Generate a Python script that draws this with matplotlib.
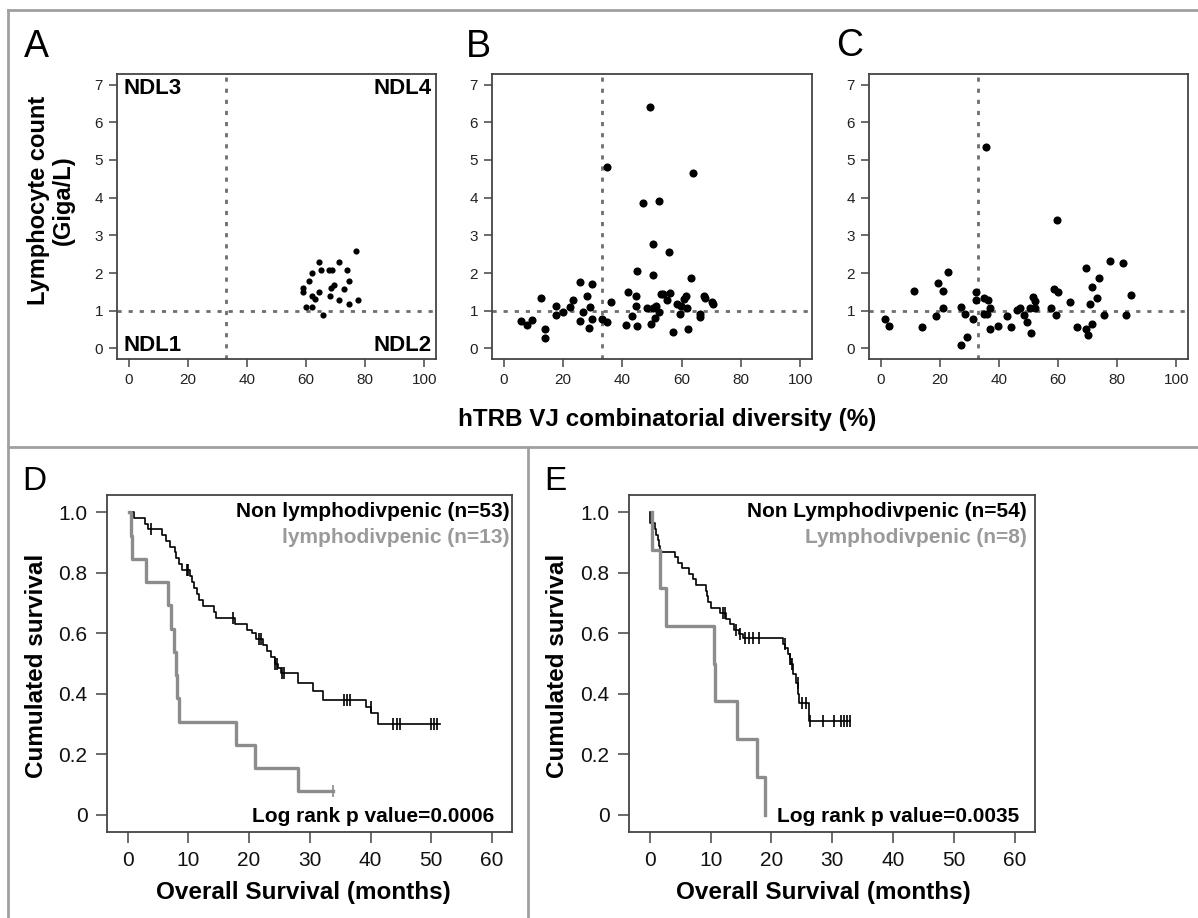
import numpy as np
import matplotlib
matplotlib.use("Agg")
import matplotlib.pyplot as plt
from matplotlib.lines import Line2D

plt.rcParams['font.family'] = ['Liberation Sans', 'DejaVu Sans']

W, H = 1198, 918

# Panels A-C: hTRB VJ combinatorial diversity (%) vs lymphocyte count (Giga/L)
a_div = [59.0, 59.0, 59.9, 61.0, 62.1, 62.1, 62.1, 62.9, 64.4, 64.4, 65.2, 65.8, 67.8,
         68.9, 68.1, 68.4, 69.3, 71.2, 71.2, 72.7, 73.8, 74.6, 74.6, 76.8, 77.6]
a_lym = [1.6, 1.5, 1.09, 1.8, 2.0, 1.4, 1.09, 1.3, 2.28, 1.49, 2.09, 0.89, 2.08,
         2.08, 1.4, 1.6, 1.69, 2.28, 1.29, 1.58, 2.08, 1.8, 1.19, 2.58, 1.29]

b_div = [5.9, 7.8, 9.6, 12.7, 13.8, 14.0, 17.7, 17.7, 19.8, 22.3, 23.4, 25.6, 25.6, 26.8,
         28.1, 29.0, 28.7, 29.6, 29.6, 33.0, 34.7, 34.9, 36.0, 41.1, 41.8, 43.4, 44.5, 44.5,
         45.1, 45.1, 46.8, 48.2, 49.3, 49.7, 50.2, 50.2, 50.2, 51.1, 51.4, 52.4, 52.5, 53.0,
         53.7, 55.0, 55.9, 56.2, 57.1, 58.6, 59.6, 59.9, 60.9, 61.5, 61.8, 62.1, 63.2, 63.8,
         66.1, 66.1, 67.7, 68.0, 70.3, 70.5]
b_lym = [0.73, 0.62, 0.75, 1.35, 0.51, 0.27, 1.13, 0.89, 0.96, 1.09, 1.28, 1.75, 0.73, 0.96,
         1.40, 1.11, 0.54, 1.71, 0.78, 0.78, 4.82, 0.71, 1.22, 0.63, 1.50, 0.85, 1.38, 1.13,
         2.06, 0.60, 3.85, 1.06, 6.40, 0.65, 2.77, 1.95, 1.08, 0.82, 1.13, 3.90, 0.96, 1.44,
         1.44, 1.28, 2.55, 1.46, 0.44, 1.19, 0.91, 1.13, 1.31, 1.40, 1.06, 0.51, 1.86, 4.65,
         0.91, 0.84, 1.40, 1.34, 1.22, 1.18]

c_div = [1.4, 2.7, 11.2, 14.0, 18.6, 19.2, 21.0, 21.0, 22.8, 27.2, 27.2, 28.4, 29.3, 31.2,
         32.1, 32.1, 35.0, 35.5, 36.4, 36.9, 35.0, 35.9, 36.9, 39.8, 42.6, 44.0, 46.1, 47.1,
         48.5, 49.5, 50.4, 51.0, 51.5, 52.2, 52.2, 57.6, 58.6, 59.2, 59.8, 60.0, 64.0, 66.3,
         69.6, 69.6, 70.3, 70.9, 71.4, 71.4, 73.2, 73.8, 75.5, 77.7, 82.1, 83.1, 84.6]
c_lym = [0.78, 0.60, 1.53, 0.58, 0.85, 1.73, 1.53, 1.08, 2.02, 1.10, 0.10, 0.91, 0.31, 0.77,
         1.49, 1.28, 1.35, 5.34, 1.28, 1.08, 0.91, 0.91, 0.51, 0.59, 0.85, 0.56, 1.02, 1.08,
         0.89, 0.71, 1.08, 0.40, 1.37, 1.26, 1.08, 1.06, 1.58, 0.89, 3.41, 1.50, 1.24, 0.56,
         2.13, 0.51, 0.36, 1.18, 1.62, 0.66, 1.33, 1.86, 0.89, 2.33, 2.27, 0.89, 1.42]

div_cut = 33
lym_cut = 1

# Panel D: Kaplan-Meier steps (months, survival)
d_non_t = [1.1, 2.8, 3.4, 5.6, 6.3, 7.0, 7.8, 8.0, 8.5, 9.0, 10.2, 10.6, 11.0, 11.4, 11.8,
           12.4, 14.3, 14.5, 17.6, 19.6, 20.4, 21.2, 22.3, 23.0, 23.6, 24.2, 24.8, 25.2,
           28.1, 30.6, 32.2, 39.2, 40.1, 41.2]
d_non_s = [0.981, 0.962, 0.943, 0.924, 0.905, 0.886, 0.867, 0.848, 0.829, 0.810, 0.790,
           0.770, 0.750, 0.730, 0.710, 0.690, 0.670, 0.650, 0.630, 0.611, 0.600, 0.580,
           0.560, 0.540, 0.520, 0.500, 0.485, 0.468, 0.437, 0.410, 0.380, 0.357, 0.335, 0.300]
d_non_cens = [3.9, 9.7, 10.0, 17.3, 21.7, 22.0, 24.3, 24.6, 25.4, 25.7, 35.7, 36.2, 36.7,
              40.0, 43.7, 44.3, 44.8, 49.9, 50.4, 50.9]
d_non_end = 51.5

d_lym_t = [0.5, 0.7, 3.1, 6.7, 7.2, 7.6, 7.9, 8.2, 8.5, 17.8, 21.0, 28.1]
d_lym_s = [0.923, 0.846, 0.769, 0.692, 0.615, 0.538, 0.462, 0.385, 0.308, 0.231, 0.154, 0.077]
d_lym_cens = [33.9]
d_lym_end = 33.9

# Panel E
e_non_t = [0.1, 0.9, 1.0, 1.3, 1.5, 1.7, 4.2, 4.7, 5.3, 6.5, 7.1, 7.6, 9.2, 9.4, 9.6, 10.0,
           11.5, 12.6, 13.2, 13.8, 14.6, 15.3, 21.9, 22.3, 22.7, 23.0, 23.2, 23.5, 24.1,
           24.4, 24.6, 26.2]
e_non_s = [0.963, 0.944, 0.926, 0.907, 0.889, 0.870, 0.852, 0.833, 0.815, 0.796, 0.778,
           0.759, 0.741, 0.722, 0.704, 0.685, 0.667, 0.648, 0.630, 0.611, 0.596, 0.583,
           0.566, 0.550, 0.533, 0.516, 0.498, 0.465, 0.435, 0.400, 0.368, 0.310]
e_non_cens = [12.1, 12.4, 14.2, 14.9, 15.6, 16.3, 17.0, 18.0, 22.2, 23.1, 23.3, 24.3, 25.0,
              25.6, 26.3, 28.4, 30.2, 31.4, 31.9, 32.4, 32.9]
e_non_end = 32.9

e_lym_t = [0.4, 1.7, 2.6, 10.5, 10.8, 14.3, 17.7, 18.9]
e_lym_s = [0.875, 0.75, 0.625, 0.5, 0.375, 0.25, 0.125, 0.0]
e_lym_cens = []
e_lym_end = 18.9

GREY_LINE = '#8c8c8c'
GREY_TEXT = '#9a9a9a'


def px_axes(fig, x0, y0, x1, y1):
    return fig.add_axes([x0 / W, 1 - y1 / H, (x1 - x0) / W, (y1 - y0) / H])


def fx(x):
    return x / W


def fy(y):
    return 1 - y / H


def style_axes(ax, labelsize, length):
    for sp in ax.spines.values():
        sp.set_color('#444444')
        sp.set_linewidth(1.3)
    ax.tick_params(direction='out', length=length, width=1.1, color='#444444',
                   labelsize=labelsize, labelcolor='#222222', pad=4)


def scatter_panel(ax, x, y, size):
    ax.axvline(div_cut, color='#6e6e6e', lw=2, ls=(0, (1.5, 2.5)), zorder=1)
    ax.axhline(lym_cut, color='#6e6e6e', lw=2, ls=(0, (1.5, 2.5)), zorder=1)
    ax.scatter(x, y, s=size, color='black', lw=0, zorder=3)
    ax.set_xlim(-4, 104)
    ax.set_ylim(-0.28, 7.28)
    ax.set_xticks(range(0, 101, 20))
    ax.set_yticks(range(0, 8))
    style_axes(ax, 11, 6)


def level_at(tc, t, s):
    i = np.searchsorted(t, tc, side='right') - 1
    return 1.0 if i < 0 else s[i]


def km_curve(ax, t, s, cens, end, color, lw, start=0.3):
    xs = [start] + list(t) + [end]
    ys = [1.0] + list(s) + [s[-1]]
    ax.step(xs, ys, where='post', color=color, lw=lw, zorder=3)
    if cens:
        cy = [level_at(c, t, s) for c in cens]
        ax.plot(cens, cy, ls='none', marker='|', ms=8, mew=1.2, color=color, zorder=4)


def survival_panel(ax, ylab_x, xlab_x):
    ax.set_xlim(-3.4, 63.3)
    ax.set_ylim(-0.057, 1.057)
    ax.set_xticks(range(0, 61, 10))
    ax.set_yticks([0, 0.2, 0.4, 0.6, 0.8, 1.0])
    ax.set_yticklabels(['0', '0.2', '0.4', '0.6', '0.8', '1.0'])
    style_axes(ax, 15, 8)
    ax.tick_params(labelcolor='#111111', pad=6)
    fig.text(fx(ylab_x), fy(666), 'Cumulated survival', rotation=90, ha='center',
             va='center', fontsize=17.5, fontweight='bold')
    fig.text(fx(xlab_x), fy(893), 'Overall Survival (months)', ha='center',
             va='center', fontsize=17.5, fontweight='bold')


fig = plt.figure(figsize=(W / 100, H / 100), dpi=100)

# frame lines
frame = dict(color='#a0a0a0', lw=2, transform=fig.transFigure)
fig.add_artist(Line2D([fx(8), 1], [fy(10), fy(10)], **frame))
fig.add_artist(Line2D([fx(8), fx(8)], [0, fy(10)], **frame))
fig.add_artist(Line2D([fx(8), 1], [fy(447), fy(447)], **frame))
fig.add_artist(Line2D([fx(528), fx(528)], [0, fy(447)], **frame))

axA = px_axes(fig, 117, 74, 436, 359)
axB = px_axes(fig, 492, 74, 812, 359)
axC = px_axes(fig, 869, 74, 1188, 359)

scatter_panel(axA, a_div, a_lym, 20)
scatter_panel(axB, b_div, b_lym, 34)
scatter_panel(axC, c_div, c_lym, 34)

fig.text(fx(51), fy(200), 'Lymphocyte count\n(Giga/L)', rotation=90, ha='center',
         va='center', multialignment='center', fontsize=17, fontweight='bold',
         linespacing=1.15)
quad = dict(fontsize=16, fontweight='bold', transform=axA.transAxes)
axA.text(0.02, 0.985, 'NDL3', ha='left', va='top', **quad)
axA.text(0.985, 0.985, 'NDL4', ha='right', va='top', **quad)
axA.text(0.02, 0.01, 'NDL1', ha='left', va='bottom', **quad)
axA.text(0.985, 0.01, 'NDL2', ha='right', va='bottom', **quad)

fig.text(fx(667), fy(420), 'hTRB VJ combinatorial diversity (%)', ha='center',
         va='center', fontsize=17.5, fontweight='bold')

for lbl, x, y in [('A', 24, 47), ('B', 466, 47), ('C', 836, 46)]:
    fig.text(fx(x), fy(y), lbl, fontsize=27, ha='left', va='center')

axD = px_axes(fig, 107, 495, 512, 832)
axE = px_axes(fig, 629, 495, 1035, 832)

km_curve(axD, d_non_t, d_non_s, d_non_cens, d_non_end, 'black', 1.2)
km_curve(axD, d_lym_t, d_lym_s, d_lym_cens, d_lym_end, GREY_LINE, 2.4)
survival_panel(axD, 37, 303)
km_curve(axE, e_non_t, e_non_s, e_non_cens, e_non_end, 'black', 1.2, start=0.0)
km_curve(axE, e_lym_t, e_lym_s, e_lym_cens, e_lym_end, GREY_LINE, 2.4)
survival_panel(axE, 557, 823)

leg = dict(fontsize=15, fontweight='bold', ha='right', va='center')
axD.text(0.993, 0.95, 'Non lymphodivpenic (n=53)', transform=axD.transAxes, **leg)
axD.text(0.993, 0.875, 'lymphodivpenic (n=13)', transform=axD.transAxes,
         color=GREY_TEXT, **leg)
axD.text(0.955, 0.045, 'Log rank p value=0.0006', transform=axD.transAxes, **leg)
axE.text(0.98, 0.95, 'Non Lymphodivpenic (n=54)', transform=axE.transAxes, **leg)
axE.text(0.98, 0.875, 'Lymphodivpenic (n=8)', transform=axE.transAxes,
         color=GREY_TEXT, **leg)
axE.text(0.962, 0.045, 'Log rank p value=0.0035', transform=axE.transAxes, **leg)

for lbl, x, y in [('D', 22, 482), ('E', 544, 482)]:
    fig.text(fx(x), fy(y), lbl, fontsize=24, ha='left', va='center')

fig.savefig('out.png', dpi=100)
